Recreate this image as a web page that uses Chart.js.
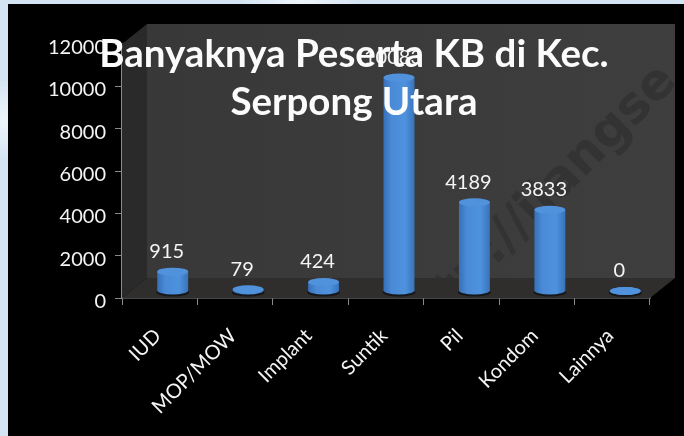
<!DOCTYPE html>
<html>
<head>
<meta charset="utf-8">
<title>Banyaknya Peserta KB</title>
<script src="https://cdn.jsdelivr.net/npm/chart.js@4"></script>
<style>
  html, body { margin: 0; padding: 0; width: 684px; height: 436px; overflow: hidden; }
  body {
    position: relative;
    background:
      radial-gradient(circle at 4px 120px, #eef5fb 0, transparent 40px),
      radial-gradient(circle at 300px 0, #eef5fb 0, transparent 60px),
      #d5e4f3;
  }
  #panel { position: absolute; left: 8px; top: 4px; right: 0; bottom: 0; background: #000; }
  #kb { position: absolute; left: 0; top: 0; filter: blur(0.5px); }
</style>
</head>
<body>
<div id="panel"></div>
<canvas id="kb" width="684" height="436"></canvas>
<script>
const categories = ['IUD', 'MOP/MOW', 'Implant', 'Suntik', 'Pil', 'Kondom', 'Lainnya'];
const peserta = [915, 79, 424, 10083, 4189, 3833, 0];
const titleLines = ['Banyaknya Peserta KB di Kec.', 'Serpong Utara'];

const DEPTH_X = 25, DEPTH_Y = 20;   // 3D box depth
const BAR_DX = 13, BAR_DY = -7;     // bars stand in the middle of the floor
const LABEL_DX = 7, LABEL_DY = -27;
const TITLE_DX = 29;                // title is centred on the box, not the canvas
const WHITE = '#f4f4f4', AXIS = '#8c8c8c';

function barGradient(ctx, x, w) {
  const g = ctx.createLinearGradient(x - w / 2, 0, x + w / 2, 0);
  g.addColorStop(0, '#3670b8');
  g.addColorStop(0.25, '#4a8ad6');
  g.addColorStop(0.7, '#4e92de');
  g.addColorStop(1, '#3873ba');
  return g;
}

/* back wall, side wall and floor of the 3D box */
const boxPlugin = {
  id: 'box',
  beforeDatasetsDraw(chart) {
    const { ctx, chartArea: a } = chart;
    const poly = (pts, fill) => {
      ctx.beginPath();
      pts.forEach((p, i) => i ? ctx.lineTo(p[0], p[1]) : ctx.moveTo(p[0], p[1]));
      ctx.closePath();
      ctx.fillStyle = fill;
      ctx.fill();
    };
    ctx.save();
    const wall = ctx.createLinearGradient(a.left, 0, a.right + DEPTH_X, 0);
    wall.addColorStop(0, '#383838');
    wall.addColorStop(1, '#3e3e3e');
    poly([[a.left + DEPTH_X, a.top - DEPTH_Y], [a.right + DEPTH_X, a.top - DEPTH_Y],
          [a.right + DEPTH_X, a.bottom - DEPTH_Y], [a.left + DEPTH_X, a.bottom - DEPTH_Y]], wall);
    poly([[a.left, a.top], [a.left + DEPTH_X, a.top - DEPTH_Y],
          [a.left + DEPTH_X, a.bottom - DEPTH_Y], [a.left, a.bottom]], '#2a2a2a');
    poly([[a.left, a.bottom], [a.left + DEPTH_X, a.bottom - DEPTH_Y],
          [a.right + DEPTH_X, a.bottom - DEPTH_Y], [a.right, a.bottom]], '#302e2d');

    // faint watermark across the wall
    ctx.beginPath();
    ctx.rect(a.left + DEPTH_X, a.top - DEPTH_Y, a.right - a.left, a.bottom - a.top);
    ctx.clip();
    ctx.translate(470, 290);
    ctx.rotate(-Math.PI / 4);
    ctx.font = 'bold 50px "DejaVu Sans"';
    ctx.fillStyle = '#333333';
    ctx.textBaseline = 'middle';
    ctx.fillText('http://jlangse', -85, -12);
    ctx.restore();
  }
};

/* cylinders: shift the flat bars back into the box, add the round ends */
const cylinderPlugin = {
  id: 'cylinder',
  beforeDatasetDraw(chart, args) {
    const { ctx } = chart;
    ctx.save();
    ctx.translate(BAR_DX, BAR_DY);
    // dark contact shadow under each bar
    ctx.fillStyle = '#171717';
    args.meta.data.forEach(bar => {
      ctx.beginPath();
      ctx.ellipse(bar.x, bar.base + 2, bar.width / 2 + 1, 4, 0, 0, Math.PI * 2);
      ctx.fill();
    });
  },
  afterDatasetDraw(chart, args) {
    const { ctx } = chart;
    args.meta.data.forEach(bar => {
      const rx = bar.width / 2, ry = 4;
      ctx.fillStyle = barGradient(ctx, bar.x, bar.width);
      ctx.beginPath();
      ctx.ellipse(bar.x, bar.base, rx, ry, 0, 0, Math.PI * 2);
      ctx.fill();
      ctx.fillStyle = '#5192dc';
      ctx.beginPath();
      ctx.ellipse(bar.x, bar.y, rx, ry, 0, 0, Math.PI * 2);
      ctx.fill();
    });
    ctx.restore();
  },
  afterDatasetsDraw(chart) {
    const { ctx } = chart;
    ctx.save();
    ctx.font = '20px Lato';
    ctx.fillStyle = WHITE;
    ctx.textAlign = 'center';
    ctx.textBaseline = 'middle';
    chart.getDatasetMeta(0).data.forEach((bar, i) => {
      ctx.fillText(peserta[i], bar.x + LABEL_DX, bar.y + LABEL_DY);
    });
    ctx.restore();
  },
  // the title sits on top of the bars and labels
  beforeLayout(chart) {
    const block = chart.titleBlock;
    block._layers = () => [{
      z: 1,
      draw(area) {
        chart.ctx.save();
        chart.ctx.translate(TITLE_DX, 0);
        block.draw(area);
        chart.ctx.restore();
      }
    }];
  }
};

new Chart(document.getElementById('kb'), {
  type: 'bar',
  data: {
    labels: categories,
    datasets: [{
      data: peserta,
      barPercentage: 0.41,
      categoryPercentage: 1,
      backgroundColor: c => {
        const s = c.chart.scales.x;
        const x = s ? s.getPixelForValue(c.dataIndex) : NaN;
        if (!Number.isFinite(x)) return '#4a8ad2';
        return barGradient(c.chart.ctx, x, s.width / categories.length * 0.41);
      }
    }]
  },
  plugins: [boxPlugin, cylinderPlugin],
  options: {
    responsive: false,
    animation: false,
    layout: { padding: { right: 34 } },
    plugins: {
      legend: { display: false },
      tooltip: { enabled: false },
      title: {
        display: true,
        text: titleLines,
        color: '#fbfbfb',
        font: { family: 'Lato', size: 38.5, weight: 'bold', lineHeight: 48 / 38.5 },
        padding: { top: 31, bottom: -83 }
      }
    },
    scales: {
      x: {
        afterFit: s => { s.height = 138; },
        grid: { offset: true, drawOnChartArea: false, color: AXIS, tickLength: 7 },
        border: { color: AXIS, width: 1.5 },
        ticks: {
          color: WHITE,
          font: { family: 'Lato', size: 20 },
          minRotation: 45, maxRotation: 45,
          padding: 19,
          labelOffset: -2,
          autoSkip: false
        }
      },
      y: {
        min: 0, max: 12000,
        afterFit: s => { s.width = 122; },
        grid: { drawOnChartArea: false, color: AXIS, tickLength: 7 },
        border: { color: AXIS, width: 1.5 },
        ticks: {
          color: WHITE,
          font: { family: 'Lato', size: 20 },
          stepSize: 2000,
          labelOffset: 3.5,
          padding: 9,
          callback: v => String(v)
        }
      }
    }
  }
});
</script>
</body>
</html>
